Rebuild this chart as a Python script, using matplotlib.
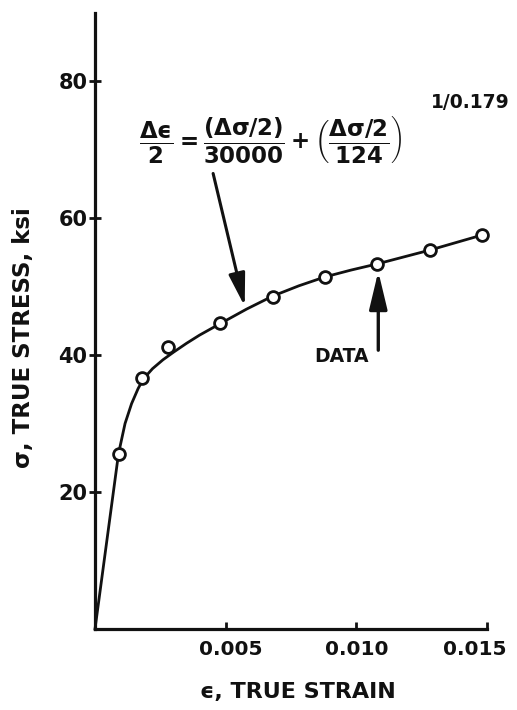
import matplotlib
matplotlib.use("Agg")
import matplotlib.pyplot as plt
import matplotlib.transforms as mtransforms

plt.rcParams['font.family'] = ['DejaVu Sans']
plt.rcParams['font.weight'] = 'bold'
plt.rcParams['mathtext.fontset'] = 'custom'
plt.rcParams['mathtext.rm'] = 'DejaVu Sans:bold'
plt.rcParams['mathtext.it'] = 'DejaVu Sans:bold'
plt.rcParams['mathtext.bf'] = 'DejaVu Sans:bold'
plt.rcParams['mathtext.sf'] = 'DejaVu Sans:bold'

# Curve (true strain, true stress in ksi)
strain_curve = [0.0, 0.0009, 0.00115, 0.0014, 0.00165, 0.00185, 0.0022, 0.0026,
                0.003, 0.0035, 0.004, 0.0048, 0.0058, 0.0068, 0.0078, 0.0088,
                0.0098, 0.0108, 0.0118, 0.0128, 0.0138, 0.0148]
stress_curve = [0.0, 25.6, 30.0, 32.9, 35.1, 36.5, 38.0, 39.3,
                40.4, 41.7, 42.9, 44.6, 46.7, 48.6, 50.1, 51.4,
                52.4, 53.3, 54.3, 55.3, 56.4, 57.5]

# Data points (circles)
strain_data = [0.0009, 0.0018, 0.0028, 0.0048, 0.0068, 0.0088, 0.0108, 0.0128, 0.0148]
stress_data = [25.6, 36.6, 41.2, 44.7, 48.5, 51.4, 53.3, 55.3, 57.5]

x_ticks = [0.005, 0.010, 0.015]
x_ticklabels = ["0.005", "0.010", "0.015"]
y_ticks = [20, 40, 60, 80]
y_ticklabels = ["20", "40", "60", "80"]

equation = (r'$\dfrac{\Delta ϵ}{2} = \dfrac{(\Delta\sigma/2)}{30000}'
            r' + \left(\dfrac{\Delta\sigma/2}{124}\right)$')
exponent = '1/0.179'

ink = '#111111'

fig = plt.figure(figsize=(5.17, 7.10), dpi=100)
fig.patch.set_facecolor('white')
ax = fig.add_axes([95/517, 1-629/710, 392/517, 616.5/710])
ax.set_facecolor('white')

ax.plot(strain_curve, stress_curve, color=ink, lw=2.0, zorder=2, clip_on=False)
ax.plot(strain_data, stress_data, linestyle='none', marker='o', markersize=8.5,
        markerfacecolor='white', markeredgecolor=ink, markeredgewidth=2.0,
        zorder=3, clip_on=False)

ax.set_xlim(0, 0.015)
ax.set_ylim(0, 90)
for s in ['top', 'right']:
    ax.spines[s].set_visible(False)
for s in ['left', 'bottom']:
    ax.spines[s].set_linewidth(2.3)
    ax.spines[s].set_color(ink)

ax.set_xticks(x_ticks)
ax.set_xticklabels(x_ticklabels)
ax.set_yticks(y_ticks)
ax.set_yticklabels(y_ticklabels)
ax.tick_params(axis='x', direction='in', length=5, width=2, color=ink,
               labelsize=14.5, pad=8, labelcolor=ink)
ax.tick_params(axis='y', direction='inout', length=9, width=2, color=ink,
               labelsize=15, pad=1, labelcolor=ink)
for lab in ax.get_xticklabels() + ax.get_yticklabels():
    lab.set_fontweight('bold')
# nudge the outer x labels, as in the reference
last = ax.get_xticklabels()[-1]
last.set_transform(last.get_transform() +
                   mtransforms.ScaledTranslation(-12/100, 0, fig.dpi_scale_trans))
first = ax.get_xticklabels()[0]
first.set_transform(first.get_transform() +
                    mtransforms.ScaledTranslation(5/100, 0, fig.dpi_scale_trans))

fig.text(298/517, 1-692/710, 'ϵ, TRUE STRAIN', ha='center', va='center',
         fontsize=16, fontweight='bold', color=ink)
fig.text(24/517, 1-338/710, 'σ, TRUE STRESS, ksi', ha='center', va='center',
         rotation=90, fontsize=16.5, fontweight='bold', color=ink)

fig.text(271/517, 1-141/710, equation, ha='center', va='center',
         fontsize=16.5, color=ink)
fig.text(470/517, 1-103/710, exponent, ha='center', va='center',
         fontsize=13.5, fontweight='bold', color=ink)

# Arrow from the equation to the curve
ax.annotate('', xy=(0.00573, 47.1), xytext=(0.00452, 66.5),
            arrowprops=dict(arrowstyle='-|>,head_length=2.0,head_width=0.5',
                            mutation_scale=10, lw=2.2, color=ink,
                            shrinkA=0, shrinkB=0))
# DATA arrow
ax.annotate('', xy=(0.01084, 52.2), xytext=(0.01084, 40.7),
            arrowprops=dict(arrowstyle='-|>,head_length=2.3,head_width=0.55',
                            mutation_scale=10, lw=2.4, color=ink,
                            shrinkA=0, shrinkB=0))
fig.text(341/517, 1-356/710, 'DATA', ha='center', va='center',
         fontsize=13.5, fontweight='bold', color=ink)

fig.savefig('out.png', dpi=100, facecolor='white')
